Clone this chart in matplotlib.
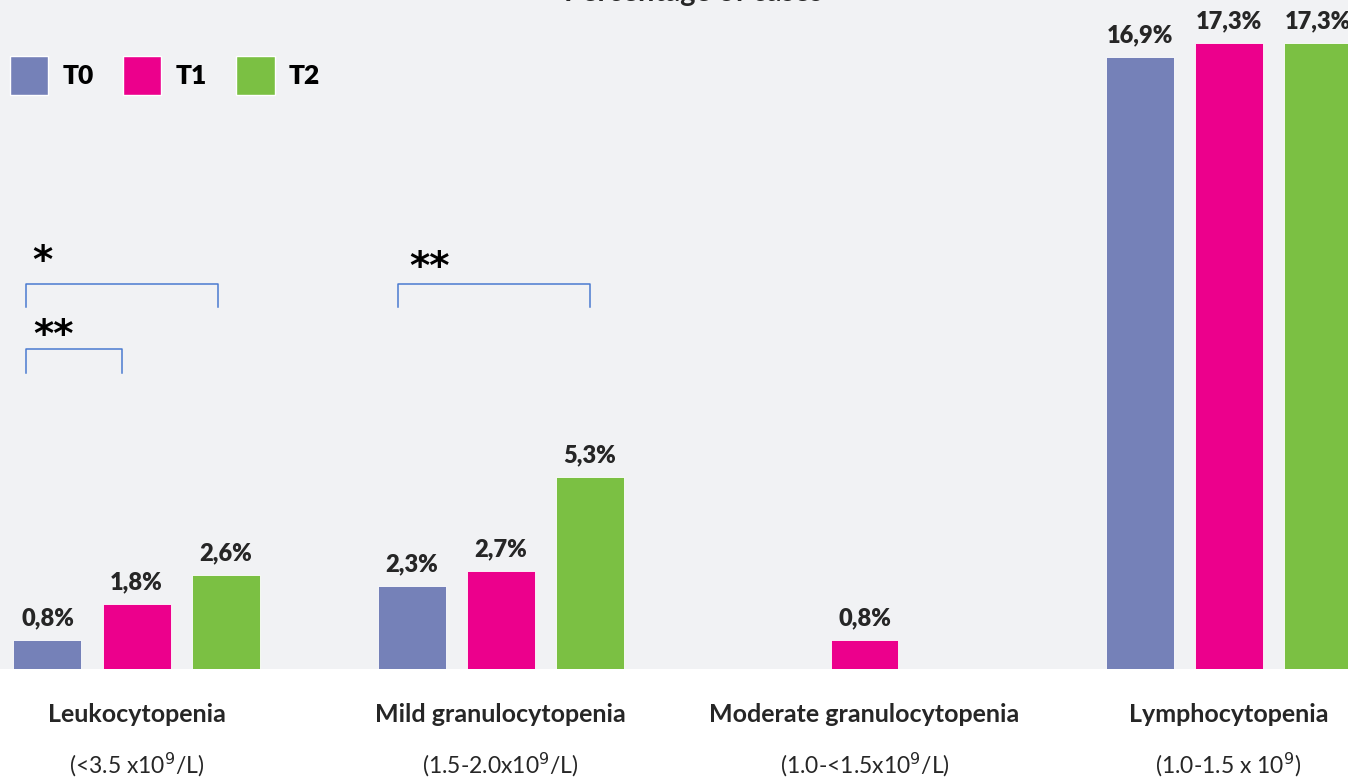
import matplotlib
matplotlib.use("Agg")
import matplotlib.pyplot as plt
from matplotlib.patches import Patch
import numpy as np

# ---------------------------------------------------------------------------
# Data
# ---------------------------------------------------------------------------
categories = ["Leukocytopenia", "Mild granulocytopenia",
              "Moderate granulocytopenia", "Lymphocytopenia"]
ranges = ["(<3.5 x10$^9$/L)", "(1.5-2.0x10$^9$/L)",
          "(1.0-<1.5x10$^9$/L)", "(1.0-1.5 x 10$^9$)"]
series = ["T0", "T1", "T2"]
t0 = [0.8, 2.3, np.nan, 16.9]
t1 = [1.8, 2.7, 0.8, 17.3]
t2 = [2.6, 5.3, np.nan, 17.3]
values = [t0, t1, t2]
colours = ["#7581b8", "#ec008c", "#7bc043"]

BG = "#f1f2f4"
W, H = 1348, 781
PX_PER_GROUP = 364.0
PX_PER_PCT = 36.2
X0_PX = 136.5          # pixel x of first group centre
BASE_PX = 669.0        # pixel y of bar baseline (from top)

fig = plt.figure(figsize=(W / 100, H / 100), dpi=100, facecolor="white")
ax = fig.add_axes([0, (H - BASE_PX) / H, 1, BASE_PX / H])
ax.set_facecolor(BG)
ax.set_xlim(-X0_PX / PX_PER_GROUP, (W - X0_PX) / PX_PER_GROUP)
ax.set_ylim(0, BASE_PX / PX_PER_PCT)
for s in ax.spines.values():
    s.set_visible(False)
ax.set_xticks([])
ax.set_yticks([])

FONT = "Lato"
TXT = "#262626"
x = np.arange(len(categories))
bw = 68 / PX_PER_GROUP
off = 89 / PX_PER_GROUP

for i, (name, vals, col) in enumerate(zip(series, values, colours)):
    xs = x + (i - 1) * off
    ax.bar(xs, vals, width=bw, color=col, edgecolor="white",
           linewidth=0.6, label=name)
    for xi, v in zip(xs, vals):
        if np.isnan(v):
            continue
        ax.text(xi, v + 0.3, f"{v:.1f}%".replace(".", ","), ha="center",
                va="bottom", fontsize=17, fontweight="heavy", family=FONT,
                color=TXT)

# category labels below the plot
for xi, cat, rng in zip(x, categories, ranges):
    ax.annotate(cat, xy=(xi, 0), xycoords="data", xytext=(0, -46),
                textcoords="offset pixels", ha="center", va="center",
                fontsize=18, fontweight="bold", family=FONT, color=TXT)
    ax.annotate(rng, xy=(xi, 0), xycoords="data", xytext=(0, -96),
                textcoords="offset pixels", ha="center", va="center",
                fontsize=16.5, family=FONT, color=TXT)


def px2x(px):
    return (px - X0_PX) / PX_PER_GROUP


def px2y(py):
    return (BASE_PX - py) / PX_PER_PCT


# significance brackets
brackets = [
    (26, 218, 284, 307, "*", 42, 262),
    (26, 122, 349, 373, "**", 54, 336),
    (398, 590, 284, 307, "**", 430, 268),
]
for xa, xb, yt, yb, star, sx, sy in brackets:
    ax.plot([px2x(xa), px2x(xa), px2x(xb), px2x(xb)],
            [px2y(yb), px2y(yt), px2y(yt), px2y(yb)],
            color="#4a7bd0", linewidth=1.1)
    ax.text(px2x(sx), px2y(sy), star, ha="center", va="center",
            fontsize=28, fontweight="bold", color="black",
            family="DejaVu Sans")

# legend
handles = [Patch(facecolor=c, edgecolor="white", label=n)
           for n, c in zip(series, colours)]
fig.legend(handles=handles, loc="upper left",
           bbox_to_anchor=(10 / W, 1 - 56 / H), ncol=3, frameon=False,
           prop={"family": FONT, "weight": "heavy", "size": 19},
           handlelength=1.45, handleheight=1.9, handletextpad=0.55,
           columnspacing=1.1, borderaxespad=0, borderpad=0)

# title, cut off by the top edge as in the source
fig.text(0.514, 1 - 1.5 / H, "Percentage of cases", ha="center",
         va="baseline", fontsize=21, fontweight="bold", family=FONT,
         color=TXT)

fig.savefig("out.png", dpi=100, facecolor="white")
